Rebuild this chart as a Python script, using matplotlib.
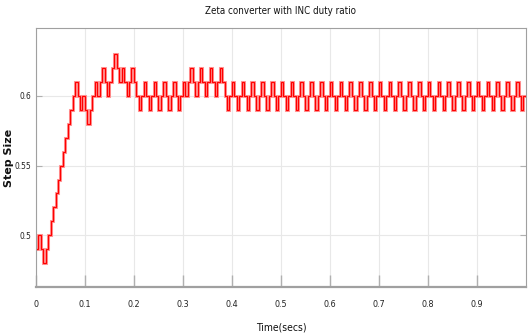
import numpy as np
import matplotlib
matplotlib.use("Agg")
import matplotlib.pyplot as plt

plt.rcParams['font.family'] = ['DejaVu Sans']
plt.rcParams['font.stretch'] = 'condensed'

# duty ratio (step size) held for each sample of the INC controller
sample_time = 0.005
duty = [
    0.49, 0.50, 0.49, 0.48, 0.49, 0.50, 0.51, 0.52, 0.53, 0.54, 0.55, 0.56, 0.57, 0.58, 0.59, 0.60, 0.61, 0.60, 0.59, 0.60,
    0.59, 0.58, 0.59, 0.60, 0.61, 0.60, 0.61, 0.62, 0.61, 0.60, 0.61, 0.62, 0.63, 0.62, 0.61, 0.62, 0.61, 0.60, 0.61, 0.62,
    0.61, 0.60, 0.59, 0.60, 0.61, 0.60, 0.59, 0.60, 0.61, 0.60, 0.59, 0.60, 0.61, 0.60, 0.59, 0.60, 0.61, 0.60, 0.59, 0.60,
    0.61, 0.60, 0.61, 0.62, 0.61, 0.60, 0.61, 0.62, 0.61, 0.60, 0.61, 0.62, 0.61, 0.60, 0.61, 0.62, 0.61, 0.60, 0.59, 0.60,
    0.61, 0.60, 0.59, 0.60, 0.61, 0.60, 0.59, 0.60, 0.61, 0.60, 0.59, 0.60, 0.61, 0.60, 0.59, 0.60, 0.61, 0.60, 0.59, 0.60,
    0.61, 0.60, 0.59, 0.60, 0.61, 0.60, 0.59, 0.60, 0.61, 0.60, 0.59, 0.60, 0.61, 0.60, 0.59, 0.60, 0.61, 0.60, 0.59, 0.60,
    0.61, 0.60, 0.59, 0.60, 0.61, 0.60, 0.59, 0.60, 0.61, 0.60, 0.59, 0.60, 0.61, 0.60, 0.59, 0.60, 0.61, 0.60, 0.59, 0.60,
    0.61, 0.60, 0.59, 0.60, 0.61, 0.60, 0.59, 0.60, 0.61, 0.60, 0.59, 0.60, 0.61, 0.60, 0.59, 0.60, 0.61, 0.60, 0.59, 0.60,
    0.61, 0.60, 0.59, 0.60, 0.61, 0.60, 0.59, 0.60, 0.61, 0.60, 0.59, 0.60, 0.61, 0.60, 0.59, 0.60, 0.61, 0.60, 0.59, 0.60,
    0.61, 0.60, 0.59, 0.60, 0.61, 0.60, 0.59, 0.60, 0.61, 0.60, 0.59, 0.60, 0.61, 0.60, 0.59, 0.60, 0.61, 0.60, 0.59, 0.60,
]
x_ticks = [0, 0.1, 0.2, 0.3, 0.4, 0.5, 0.6, 0.7, 0.8, 0.9]
x_tick_labels = ['0', '0.1', '0.2', '0.3', '0.4', '0.5', '0.6', '0.7', '0.8', '0.9']
y_ticks = [0.5, 0.55, 0.6]
y_tick_labels = ['0.5', '0.55', '0.6']

edges = np.arange(len(duty) + 1) * sample_time

fig = plt.figure(figsize=(5.28, 3.36), dpi=100)
ax = fig.add_axes([0.068, 0.145, 0.928, 0.771])

# soft halo + red trace, like the scope export
ax.stairs(duty, edges, baseline=None, color='#ff9a9a', lw=2.2)
ax.stairs(duty, edges, baseline=None, color='#ff0000', lw=0.9)

ax.set_xlim(0, 1.0)
ax.set_ylim(0.4627, 0.6486)
ax.set_xticks(x_ticks)
ax.set_xticklabels(x_tick_labels)
ax.set_yticks(y_ticks)
ax.set_yticklabels(y_tick_labels)
ax.grid(True, color='#e8e8e8', lw=0.8)
ax.set_axisbelow(True)

ax.tick_params(axis='x', direction='in', length=9, width=1.0, color='#b0b0b0',
               labelsize=6.5, pad=9, labelcolor='#222222')
ax.tick_params(axis='y', direction='in', length=4, width=0.8, color='#b0b0b0',
               labelsize=6, pad=3, labelcolor='#222222', right=True)
for name, sp in ax.spines.items():
    sp.set_color('#a0a0a0')
    sp.set_linewidth(0.8)
ax.spines['bottom'].set_linewidth(1.6)

ax.set_title('Zeta converter with INC duty ratio', fontsize=7, pad=10, color='#111111')
ax.set_xlabel('Time(secs)', fontsize=7.5, labelpad=10, color='#111111')
ax.set_ylabel('Step Size', fontsize=8, fontweight='bold', fontstretch='normal',
              color='#111111')
ax.yaxis.set_label_coords(-0.044, 0.5)

fig.savefig('out.png', dpi=100)
